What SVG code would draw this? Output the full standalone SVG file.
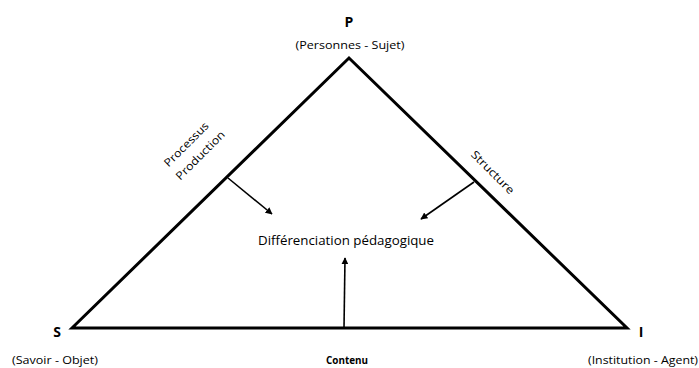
<svg xmlns="http://www.w3.org/2000/svg" width="699" height="368" viewBox="0 0 699 368">
<style>
text{font-family:"Open Sans","Liberation Sans",sans-serif;fill:#000}
.lbl{font-size:10.5px}
.rot{font-size:11px}
.b{font-weight:bold}
.edge{fill:none;stroke:#000;stroke-width:3;stroke-linejoin:miter}
.arr{stroke:#000;stroke-width:1.6;fill:none}
</style>
<defs>
<marker id="ah" viewBox="0 0 10 10" refX="9" refY="5" markerWidth="7" markerHeight="7" markerUnits="userSpaceOnUse" orient="auto">
<path d="M0,0 L10,5 L0,10 z" fill="#000"/>
</marker>
</defs>
<rect width="699" height="368" fill="#fff"/>
<g id="triangle">
<polygon class="edge" points="72,328 349,58 627,328"/>
</g>
<g id="node-P">
<text x="349" y="27" text-anchor="middle" class="b" font-size="14">P</text>
<text x="350" y="49" text-anchor="middle" class="lbl" textLength="109" lengthAdjust="spacingAndGlyphs">(Personnes - Sujet)</text>
</g>
<g id="node-S">
<text x="57" y="337" text-anchor="middle" class="b" font-size="14">S</text>
<text x="55" y="364" text-anchor="middle" class="lbl" textLength="86" lengthAdjust="spacingAndGlyphs">(Savoir - Objet)</text>
</g>
<g id="node-I">
<text x="641" y="337" text-anchor="middle" class="b" font-size="14">I</text>
<text x="643" y="364" text-anchor="middle" class="lbl" textLength="110" lengthAdjust="spacingAndGlyphs">(Institution - Agent)</text>
</g>
<g id="node-center">
<text x="346" y="245" text-anchor="middle" font-size="13" textLength="176" lengthAdjust="spacingAndGlyphs">Différenciation pédagogique</text>
</g>
<g id="label-contenu">
<text x="347" y="364" text-anchor="middle" class="b" font-size="10.5" textLength="42" lengthAdjust="spacingAndGlyphs">Contenu</text>
</g>
<g id="label-processus">
<text transform="translate(189,147) rotate(-45)" text-anchor="middle" class="rot" textLength="58" lengthAdjust="spacingAndGlyphs">Processus</text>
<text transform="translate(203,158) rotate(-45)" text-anchor="middle" class="rot" textLength="64" lengthAdjust="spacingAndGlyphs">Production</text>
</g>
<g id="label-structure">
<text transform="translate(490,175) rotate(45)" text-anchor="middle" class="rot" textLength="56" lengthAdjust="spacingAndGlyphs">Structure</text>
</g>
<g id="connectors">
<line class="arr" x1="228" y1="178" x2="272" y2="214" marker-end="url(#ah)"/>
<line class="arr" x1="474" y1="182" x2="421" y2="219" marker-end="url(#ah)"/>
<line class="arr" x1="344" y1="328" x2="345" y2="258" marker-end="url(#ah)"/>
</g>
</svg>
